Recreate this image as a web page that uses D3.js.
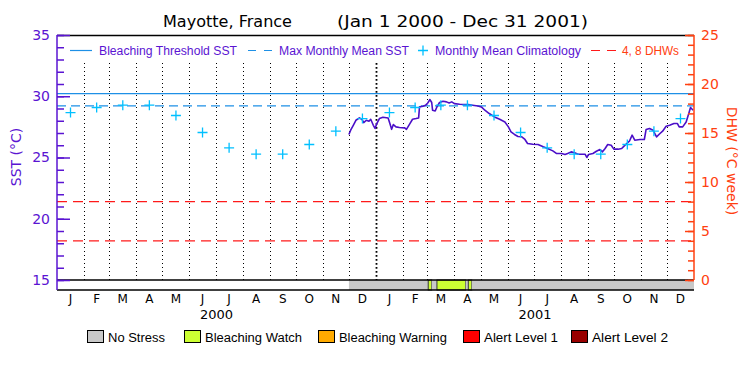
<!DOCTYPE html>
<html>
<head>
<meta charset="utf-8">
<script src="https://cdn.jsdelivr.net/npm/d3@7"></script>
<style>
  body { margin: 0; background: #fff; }
  svg { display: block; }
</style>
</head>
<body>
<div id="chart"></div>
<script>
// values
const months = ["J", "F", "M", "A", "M", "J", "J", "A", "S", "O", "N", "D"];
const years = ["2000", "2001"];
const climatology = [28.67, 29.08, 29.27, 29.27, 28.43, 27.04, 25.79, 25.27, 25.27, 26.06, 27.15, 28.18];
const bleachingThreshold = 30.22;
const maxMonthlyMean = 29.22;
const dhwLevels = [4, 8];

const sstDates = [
	"2000-12-01", "2000-12-03", "2000-12-06", "2000-12-09", "2000-12-13", "2000-12-16", "2000-12-18",
	"2000-12-21", "2000-12-24", "2000-12-26", "2000-12-29", "2000-12-31", "2001-01-02", "2001-01-05",
	"2001-01-09", "2001-01-15", "2001-01-17", "2001-01-19", "2001-01-21", "2001-01-24", "2001-01-28",
	"2001-02-03", "2001-02-05", "2001-02-09", "2001-02-12", "2001-02-16", "2001-02-19", "2001-02-20",
	"2001-02-24", "2001-02-27", "2001-03-01", "2001-03-04", "2001-03-06", "2001-03-07", "2001-03-10",
	"2001-03-12", "2001-03-15", "2001-03-19", "2001-03-23", "2001-03-26", "2001-03-29", "2001-04-01",
	"2001-04-07", "2001-04-17", "2001-04-22", "2001-04-28", "2001-05-02", "2001-05-06", "2001-05-11",
	"2001-05-17", "2001-05-23", "2001-05-29", "2001-06-02", "2001-06-05", "2001-06-09", "2001-06-13",
	"2001-06-17", "2001-06-21", "2001-06-24", "2001-06-30", "2001-07-06", "2001-07-12", "2001-07-17",
	"2001-07-23", "2001-07-27", "2001-08-02", "2001-08-06", "2001-08-09", "2001-08-13", "2001-08-17",
	"2001-08-21", "2001-08-25", "2001-08-29", "2001-08-31", "2001-09-02", "2001-09-07", "2001-09-11",
	"2001-09-15", "2001-09-18", "2001-09-21", "2001-09-24", "2001-09-28", "2001-10-01", "2001-10-06",
	"2001-10-10", "2001-10-13", "2001-10-19", "2001-10-22", "2001-10-25", "2001-10-31", "2001-11-05",
	"2001-11-07", "2001-11-11", "2001-11-15", "2001-11-19", "2001-11-23", "2001-11-26", "2001-11-30",
	"2001-12-04", "2001-12-09", "2001-12-13", "2001-12-15", "2001-12-19", "2001-12-23", "2001-12-26",
	"2001-12-28", "2001-12-31"
];
const sstValues = [
	26.88, 27.23, 27.63, 28.04, 28.23, 28.12, 27.85,
	28.04, 27.96, 28.12, 27.63, 27.37, 27.77, 28.18,
	28.29, 28.23, 27.77, 27.30, 27.69, 27.50, 27.45,
	27.42, 27.30, 27.77, 28.12, 28.18, 28.23, 29.13,
	29.18, 29.27, 29.40, 29.73, 29.49, 28.86, 28.80,
	29.13, 29.49, 29.59, 29.54, 29.45, 29.54, 29.40,
	29.35, 29.32, 29.27, 29.21, 29.13, 28.86, 28.59,
	28.31, 28.12, 27.90, 27.50, 27.09, 26.88, 26.72,
	26.70, 26.47, 26.14, 26.08, 26.06, 25.87, 25.73,
	25.54, 25.33, 25.33, 25.25, 25.33, 25.46, 25.38,
	25.27, 25.27, 25.27, 25.00, 25.25, 25.33, 25.51,
	25.65, 25.46, 25.73, 26.06, 26.00, 25.68, 25.68,
	25.73, 25.95, 26.35, 26.82, 26.41, 26.47, 26.47,
	27.28, 27.37, 27.23, 26.68, 26.96, 27.15, 27.55,
	27.63, 27.77, 27.77, 27.50, 27.50, 27.90, 28.59,
	29.08, 28.86
];

const stressStart = ["2000-12-01", "2001-03-02", "2001-03-06", "2001-03-12", "2001-04-14", "2001-04-17", "2001-04-21"];
const stressEnd = ["2001-03-02", "2001-03-06", "2001-03-12", "2001-04-14", "2001-04-17", "2001-04-21", "2002-01-01"];
const stressLevel = [0, 1, 0, 1, 0, 1, 0];
const stressNames = ["No Stress", "Bleaching Watch", "Bleaching Warning", "Alert Level 1", "Alert Level 2"];
const stressColors = ["#c8c8c8", "#ccff33", "#ffaa00", "#ff0000", "#990000"];

const purple = "#5a14d2";
const orange = "#ff4010";
const blue = "#1e90e6";
const cyan = "#00c0ff";

const width = 750, height = 375;
const margin = {top: 35, right: 56, bottom: 95, left: 57};
const barH = 10;

const svg = d3.select("#chart").append("svg")
	.attr("width", width)
	.attr("height", height)
	.style("font-family", "'DejaVu Sans', sans-serif");

const parse = d3.utcParse("%Y-%m-%d");
const x = d3.scaleUtc()
	.domain([parse("2000-01-01"), parse("2002-01-01")])
	.range([margin.left, width - margin.right]);
const y = d3.scaleLinear().domain([15, 35]).range([height - margin.bottom, margin.top]);
const yDhw = d3.scaleLinear().domain([0, 25]).range([height - margin.bottom, margin.top]);

const x0 = margin.left, x1 = width - margin.right;
const yBottom = height - margin.bottom;

// month grid
const monthStarts = d3.utcMonth.range(parse("2000-02-01"), parse("2002-01-01"));
svg.append("g").selectAll("line")
	.data(monthStarts)
	.join("line")
	.attr("x1", d => Math.round(x(d)) + 0.5)
	.attr("x2", d => Math.round(x(d)) + 0.5)
	.attr("y1", 63)
	.attr("y2", yBottom)
	.attr("stroke", "#000")
	.attr("stroke-width", d => d.getUTCMonth() === 0 ? 1.8 : 1)
	.attr("stroke-dasharray", d => d.getUTCMonth() === 0 ? "1.8,2.2" : "1,3");

// DHW levels
svg.append("g").selectAll("line")
	.data(dhwLevels)
	.join("line")
	.attr("x1", x0).attr("x2", x1)
	.attr("y1", d => yDhw(d)).attr("y2", d => yDhw(d))
	.attr("stroke", "#ff1a1a")
	.attr("stroke-width", 1.2)
	.attr("stroke-dasharray", "10,6");

// threshold + MMM
svg.append("line")
	.attr("x1", x0).attr("x2", x1)
	.attr("y1", y(bleachingThreshold)).attr("y2", y(bleachingThreshold))
	.attr("stroke", blue).attr("stroke-width", 1.2);
svg.append("line")
	.attr("x1", x0).attr("x2", x1)
	.attr("y1", y(maxMonthlyMean)).attr("y2", y(maxMonthlyMean))
	.attr("stroke", blue).attr("stroke-width", 1.2)
	.attr("stroke-dasharray", "9,5");

// SST series
const sst = sstDates.map((d, i) => ({date: parse(d), value: sstValues[i]}));
const line = d3.line()
	.x(d => x(d.date))
	.y(d => y(d.value));
svg.append("path")
	.datum(sst)
	.attr("fill", "none")
	.attr("stroke", "#4b0fc8")
	.attr("stroke-width", 1.6)
	.attr("stroke-linejoin", "round")
	.attr("d", line);

// climatology crosses, mid month for both years
const clim = [];
[2000, 2001].forEach(yr => {
	climatology.forEach((v, m) => {
		const a = Date.UTC(yr, m, 1), b = Date.UTC(yr, m + 1, 1);
		clim.push({date: new Date((a + b) / 2), value: v});
	});
});
svg.append("g").selectAll("path")
	.data(clim)
	.join("path")
	.attr("transform", d => `translate(${x(d.date)},${y(d.value)})`)
	.attr("d", "M-5,0H5M0,-5V5")
	.attr("stroke", cyan)
	.attr("stroke-width", 1.3)
	.attr("fill", "none");

// stress bar
const stress = stressStart.map((s, i) => ({start: parse(s), end: parse(stressEnd[i]), level: stressLevel[i]}));
svg.append("g").selectAll("rect")
	.data(stress)
	.join("rect")
	.attr("x", d => x(d.start))
	.attr("width", d => x(d.end) - x(d.start))
	.attr("y", yBottom)
	.attr("height", barH)
	.attr("fill", d => stressColors[d.level])
	.attr("stroke", d => d.level > 0 ? "#333" : "none")
	.attr("stroke-width", 1);

// frame
svg.append("line").attr("x1", x0).attr("x2", x1).attr("y1", margin.top + 0.5).attr("y2", margin.top + 0.5)
	.attr("stroke", "#000").attr("stroke-width", 1.5);
svg.append("line").attr("x1", x0).attr("x2", x1).attr("y1", yBottom).attr("y2", yBottom)
	.attr("stroke", "#000").attr("stroke-width", 1.5);
svg.append("line").attr("x1", x0).attr("x2", x1).attr("y1", yBottom + barH).attr("y2", yBottom + barH)
	.attr("stroke", "#000").attr("stroke-width", 1.5);

// left axis
const leftMajor = svg.append("g")
	.attr("transform", `translate(${x0},0)`)
	.call(d3.axisLeft(y).tickValues(d3.range(15, 36, 5)).tickSizeInner(-13).tickSizeOuter(0).tickPadding(7));
const leftMinor = svg.append("g")
	.attr("transform", `translate(${x0},0)`)
	.call(d3.axisLeft(y).tickValues(d3.range(15, 36, 1)).tickSize(-7).tickFormat(""));
[leftMajor, leftMinor].forEach(g => {
	g.select(".domain").remove();
	g.selectAll("line").attr("stroke", purple).attr("stroke-width", 1.5);
});
leftMajor.selectAll("text").attr("fill", purple).style("font-size", "14px").style("font-family", "'DejaVu Sans', sans-serif");
svg.append("line").attr("x1", x0).attr("x2", x0).attr("y1", margin.top).attr("y2", yBottom + barH)
	.attr("stroke", purple).attr("stroke-width", 1.5);

// right axis
const rightMajor = svg.append("g")
	.attr("transform", `translate(${x1},0)`)
	.call(d3.axisRight(yDhw).tickValues(d3.range(0, 26, 5)).tickSizeInner(-9).tickSizeOuter(0).tickPadding(7));
const rightMinor = svg.append("g")
	.attr("transform", `translate(${x1},0)`)
	.call(d3.axisRight(yDhw).tickValues(d3.range(0, 26, 1)).tickSize(-6).tickFormat(""));
[rightMajor, rightMinor].forEach(g => {
	g.select(".domain").remove();
	g.selectAll("line").attr("stroke", orange).attr("stroke-width", 1.5);
});
rightMajor.selectAll("text").attr("fill", orange).style("font-size", "14px").style("font-family", "'DejaVu Sans', sans-serif");
svg.append("line").attr("x1", x1).attr("x2", x1).attr("y1", margin.top).attr("y2", yBottom)
	.attr("stroke", orange).attr("stroke-width", 1.5);

// axis titles
svg.append("text")
	.attr("transform", `translate(21,157) rotate(-90)`)
	.attr("text-anchor", "middle")
	.attr("fill", purple)
	.style("font-size", "14px")
	.text("SST (°C)");
svg.append("text")
	.attr("transform", `translate(727,161) rotate(90)`)
	.attr("text-anchor", "middle")
	.attr("fill", orange)
	.style("font-size", "14px")
	.text("DHW (°C week)");

// month + year labels
const monthMids = [];
[2000, 2001].forEach(yr => {
	months.forEach((m, i) => {
		const a = Date.UTC(yr, i, 1), b = Date.UTC(yr, i + 1, 1);
		monthMids.push({date: new Date((a + b) / 2), label: m});
	});
});
svg.append("g").selectAll("text")
	.data(monthMids)
	.join("text")
	.attr("x", d => x(d.date))
	.attr("y", 303)
	.attr("text-anchor", "middle")
	.style("font-size", "12px")
	.text(d => d.label);
svg.append("g").selectAll("text")
	.data(years)
	.join("text")
	.attr("x", d => (x(parse(`${d}-01-01`)) + x(parse(`${+d + 1}-01-01`))) / 2)
	.attr("y", 319)
	.attr("text-anchor", "middle")
	.style("font-size", "13px")
	.text(d => d);

// title
svg.append("text").attr("x", 163).attr("y", 27)
	.attr("textLength", 129).attr("lengthAdjust", "spacingAndGlyphs")
	.style("font-size", "16px").text("Mayotte, France");
svg.append("text").attr("x", 337).attr("y", 27)
	.attr("textLength", 251).attr("lengthAdjust", "spacingAndGlyphs")
	.style("font-size", "16px").text("(Jan 1 2000 - Dec 31 2001)");

// top legend
const legY = 50.5;
const leg = svg.append("g").style("font-family", "'Liberation Sans', Arial, sans-serif").style("font-size", "12px");
leg.append("line").attr("x1", 70).attr("x2", 92).attr("y1", legY).attr("y2", legY).attr("stroke", blue).attr("stroke-width", 1.2);
leg.append("text").attr("x", 99).attr("y", 55).attr("fill", purple)
	.attr("textLength", 138).attr("lengthAdjust", "spacingAndGlyphs").text("Bleaching Threshold SST");
leg.append("line").attr("x1", 248).attr("x2", 273).attr("y1", legY).attr("y2", legY)
	.attr("stroke", blue).attr("stroke-width", 1.2).attr("stroke-dasharray", "8,8");
leg.append("text").attr("x", 279).attr("y", 55).attr("fill", purple)
	.attr("textLength", 130).attr("lengthAdjust", "spacingAndGlyphs").text("Max Monthly Mean SST");
leg.append("path").attr("transform", `translate(423,${legY})`).attr("d", "M-5,0H5M0,-5V5")
	.attr("stroke", cyan).attr("stroke-width", 1.3);
leg.append("text").attr("x", 435).attr("y", 55).attr("fill", purple)
	.attr("textLength", 146).attr("lengthAdjust", "spacingAndGlyphs").text("Monthly Mean Climatology");
leg.append("line").attr("x1", 591).attr("x2", 616).attr("y1", legY).attr("y2", legY)
	.attr("stroke", "#ff1a1a").attr("stroke-width", 1.2).attr("stroke-dasharray", "9,7");
leg.append("text").attr("x", 622).attr("y", 55).attr("fill", orange)
	.attr("textLength", 57).attr("lengthAdjust", "spacingAndGlyphs").text("4, 8 DHWs");

// stress legend
const boxX = [87, 184, 318, 463, 571];
const labelW = [57, 97, 108, 74, 76];
const sleg = svg.append("g").style("font-family", "'Liberation Sans', Arial, sans-serif").style("font-size", "12px");
stressNames.forEach((name, i) => {
	sleg.append("rect").attr("x", boxX[i] + 0.5).attr("y", 330.5).attr("width", 16).attr("height", 12)
		.attr("fill", stressColors[i]).attr("stroke", "#000").attr("stroke-width", 1);
	sleg.append("text").attr("x", boxX[i] + 21).attr("y", 342)
		.attr("textLength", labelW[i]).attr("lengthAdjust", "spacingAndGlyphs").text(name);
});
</script>
</body>
</html>
